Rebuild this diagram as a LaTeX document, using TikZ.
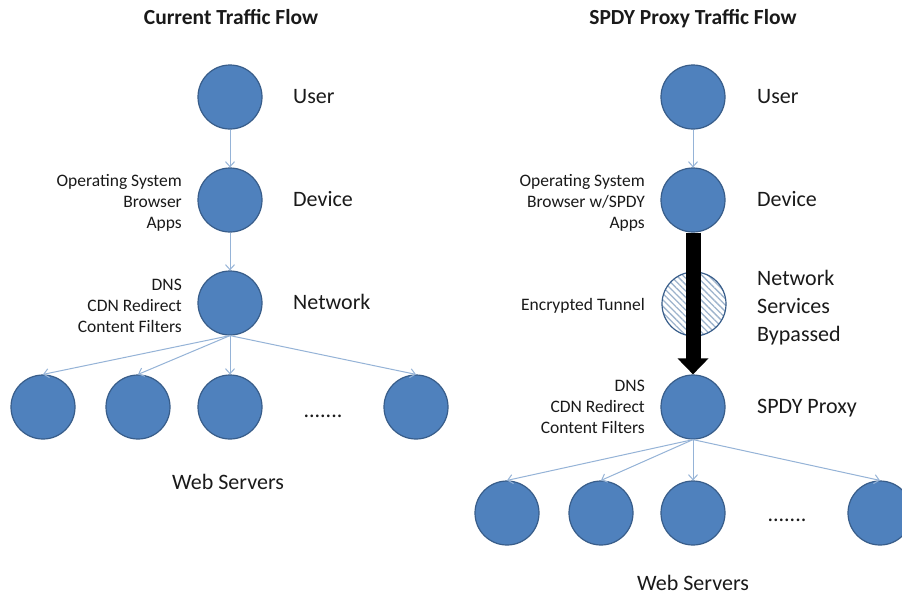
\documentclass[tikz,border=0pt]{standalone}
\usepackage{fontspec}
\setmainfont{Carlito}
\usetikzlibrary{arrows.meta,patterns.meta,calc}
\definecolor{nodeblue}{HTML}{4F81BD}
\definecolor{nodeborder}{HTML}{385D8A}
\definecolor{linkblue}{HTML}{95B3D7}
\definecolor{hatch}{HTML}{9DB3CC}
\definecolor{txt}{HTML}{1A1A1A}
\begin{document}
\begin{tikzpicture}[x=1pt,y=-1pt,
  server/.style={circle,fill=nodeblue,draw=nodeborder,line width=1.2pt,minimum size=64pt,inner sep=0pt},
  bypass/.style={circle,draw=nodeborder,line width=1.2pt,minimum size=64pt,inner sep=0pt,
    pattern={Lines[angle=-45,distance=4.5pt,line width=1.3pt]},pattern color=hatch},
  big/.style={font=\fontsize{22}{28}\selectfont,text=txt,anchor=mid west,inner sep=0pt},
  bigml/.style={font=\fontsize{22}{28}\selectfont,text=txt,anchor=west,inner sep=0pt,align=left},
  bigc/.style={font=\fontsize{22}{28}\selectfont,text=txt,anchor=mid,inner sep=0pt},
  small/.style={font=\fontsize{17.5}{21}\selectfont,text=txt,anchor=east,inner sep=0pt,align=right},
  ttl/.style={font=\bfseries\fontsize{21.5}{26}\selectfont,text=txt,inner sep=0pt,anchor=mid},
  link/.style={draw=linkblue,line width=1pt,-{Straight Barb[length=5pt,width=9pt]}},
  tunnel/.style={draw=black,line width=15pt,-{Triangle[width=30pt,length=16pt]}},
]
\clip (0,0) rectangle (902,598);
\fill[white] (0,0) rectangle (902,598);
% titles
\node[ttl] (t1) at (231,22) {Current Traffic Flow};
\node[ttl] (t2) at (693,22) {SPDY Proxy Traffic Flow};
% left column
\node[server] (u1) at (230,97) {};
\node[server] (d1) at (230,200) {};
\node[server] (n1) at (230,303) {};
\node[server] (w11) at (43,407) {};
\node[server] (w12) at (138,407) {};
\node[server] (w13) at (230,407) {};
\node[server] (w14) at (416,407) {};
\node[big] (lu1) at (293,101) {User};
\node[big] (ld1) at (293,204) {Device};
\node[big] (ln1) at (293,307) {Network};
\node[small] (sd1) at (182,203) {Operating System\\Browser\\Apps};
\node[small] (sn1) at (182,306) {DNS\\CDN Redirect\\Content Filters};
\node[bigc] (dots1) at (323,415) {.......};
\node[bigc] (ws1) at (228,487) {Web Servers};
\draw[link] (u1) -- (d1);
\draw[link] (d1) -- (n1);
\draw[link] (n1.south) -- (w11.north);
\draw[link] (n1.south) -- (w12.north);
\draw[link] (n1) -- (w13);
\draw[link] (n1.south) -- (w14.north);
% right column
\node[server] (u2) at (693,97) {};
\node[server] (d2) at (693,200) {};
\node[bypass] (b2) at (694,304) {};
\node[server] (p2) at (693,407) {};
\node[server] (w21) at (507,513) {};
\node[server] (w22) at (601,513) {};
\node[server] (w23) at (693,513) {};
\node[server] (w24) at (880,513) {};
\node[big] (lu2) at (757,101) {User};
\node[big] (ld2) at (757,204) {Device};
\node[bigml] (lb2) at (757,308) {Network\\Services\\Bypassed};
\node[big] (lp2) at (757,411) {SPDY Proxy};
\node[small] (sd2) at (645,203) {Operating System\\Browser w/SPDY\\Apps};
\node[small] (sb2) at (645,306) {Encrypted Tunnel};
\node[small] (sp2) at (645,407) {DNS\\CDN Redirect\\Content Filters};
\node[bigc] (dots2) at (787,519) {.......};
\node[bigc] (ws2) at (693,588) {Web Servers};
\draw[link] (u2) -- (d2);
\draw[tunnel] (d2.south) -- (p2.north);
\draw[link] (p2.south) -- (w21.north);
\draw[link] (p2.south) -- (w22.north);
\draw[link] (p2) -- (w23);
\draw[link] (p2.south) -- (w24.north);
\end{tikzpicture}
\end{document}
